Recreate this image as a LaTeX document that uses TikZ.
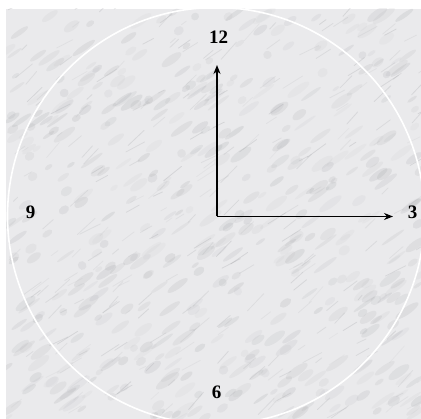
\documentclass[tikz,border=0pt]{standalone}
\usepackage{fontspec}
\setmainfont{Liberation Serif}
\usetikzlibrary{arrows.meta}
\definecolor{marble}{RGB}{234,234,236}
\definecolor{vein}{RGB}{150,152,156}
\tikzset{
  numlabel/.style={font=\fontsize{19}{19}\selectfont\bfseries, inner sep=0pt},
  hand/.style={line width=1.6pt, -{Stealth[length=9pt,width=7pt]}},
}
\begin{document}
\begin{tikzpicture}[x=1pt,y=-1pt]
\useasboundingbox (0,0) rectangle (421,419);
\fill[white] (0,0) rectangle (421,419);
\begin{scope}
\clip (6,9) rectangle (421,419);
\fill[marble] (6,9) rectangle (421,419);
\pgfmathsetseed{11}
\foreach \i in {1,...,500}{
  \pgfmathsetmacro{\xa}{6+415*rnd}
  \pgfmathsetmacro{\ya}{9+410*rnd}
  \pgfmathsetmacro{\ra}{4+10*rnd}
  \pgfmathsetmacro{\rb}{1.5+3*rnd}
  \pgfmathsetmacro{\op}{0.05+0.12*rnd}
  \fill[vein, opacity=\op, rotate around={35:(\xa,\ya)}] (\xa,\ya) ellipse ({\ra} and {\rb});
}
\foreach \i in {1,...,260}{
  \pgfmathsetmacro{\xa}{6+415*rnd}
  \pgfmathsetmacro{\ya}{9+410*rnd}
  \pgfmathsetmacro{\len}{6+18*rnd}
  \pgfmathsetmacro{\ang}{25+25*rnd}
  \pgfmathsetmacro{\op}{0.08+0.18*rnd}
  \draw[vein, line width=0.8pt, opacity=\op, line cap=round]
    (\xa,\ya) -- ++({\len*cos(\ang)},{-\len*sin(\ang)});
}
\draw[white, line width=1.6pt] (216,216) circle (208.5);
\end{scope}
\coordinate (c) at (217,216.5);
\coordinate (h12) at (217,65);
\coordinate (h3) at (393,216.5);
\draw[hand] (c) -- (h12);
\draw[hand] (c) -- (h3);
\node[numlabel] (n12) at (218.5,37.5) {12};
\node[numlabel] (n3) at (412.5,212) {3};
\node[numlabel] (n6) at (216.5,392.5) {6};
\node[numlabel] (n9) at (30.5,212) {9};
\end{tikzpicture}
\end{document}
